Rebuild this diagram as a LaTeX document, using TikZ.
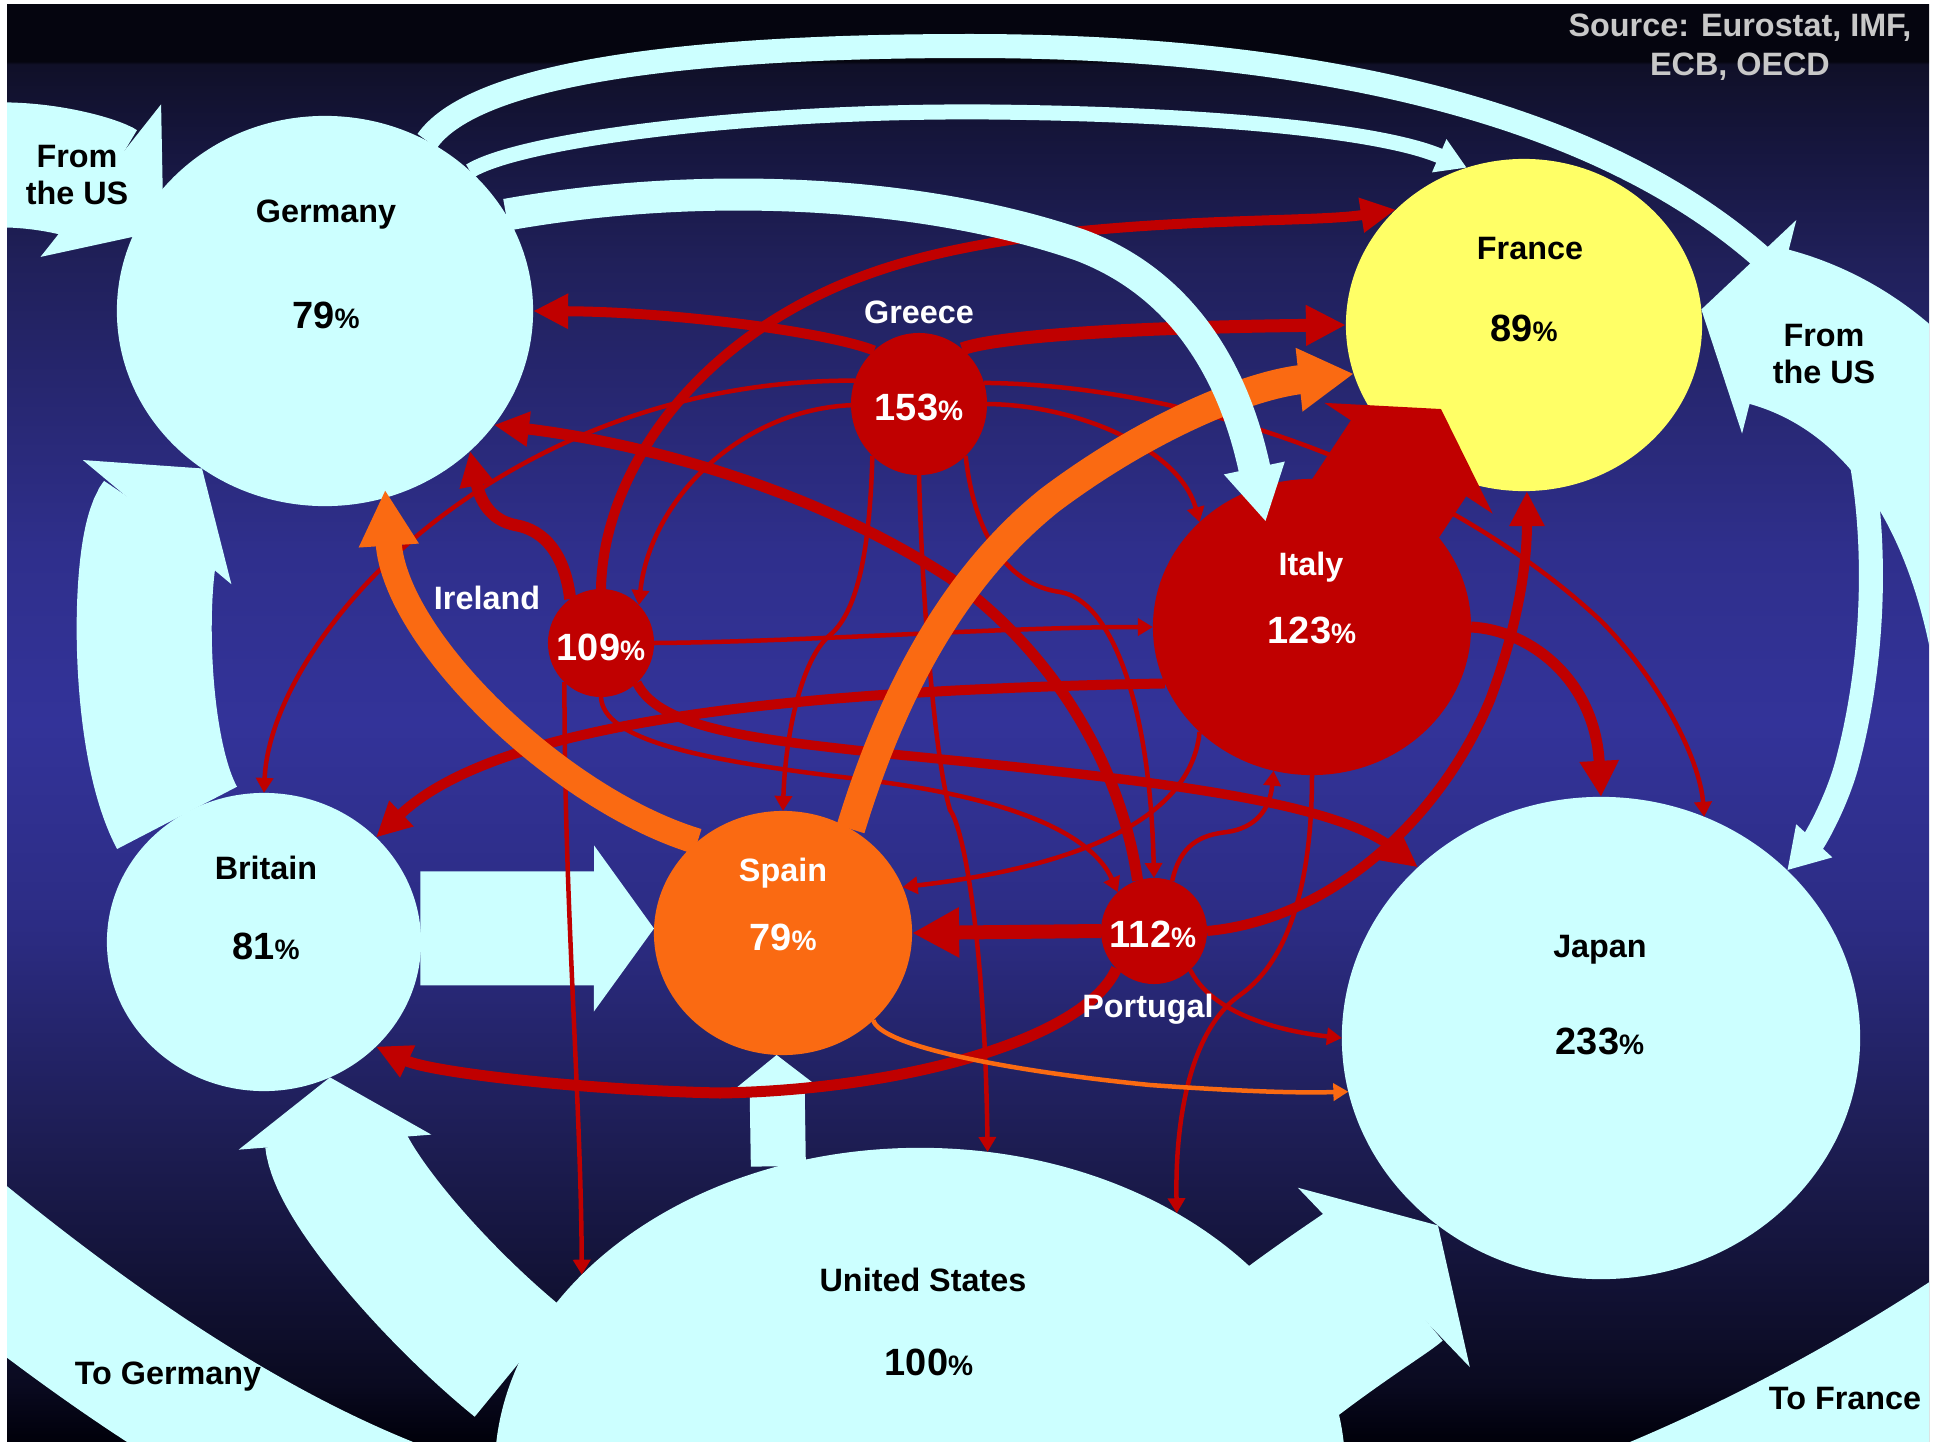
\documentclass[tikz,border=0pt]{standalone}
\usepackage{fontspec}
\setmainfont{Liberation Sans}
\usetikzlibrary{shapes.geometric,arrows.meta,calc}
\definecolor{landcyan}{RGB}{204,255,255}
\definecolor{franceyellow}{RGB}{255,255,102}
\definecolor{debtred}{RGB}{192,0,0}
\definecolor{spainorange}{RGB}{250,106,18}
\definecolor{srcgray}{RGB}{200,200,200}
\definecolor{nighta}{RGB}{0,0,10}
\definecolor{nightb}{RGB}{10,10,32}
\definecolor{nightc}{RGB}{28,28,80}
\definecolor{nightd}{RGB}{44,44,132}
\definecolor{nighte}{RGB}{51,51,153}
\definecolor{nightf}{RGB}{47,47,140}
\definecolor{nightg}{RGB}{38,38,110}
\definecolor{nighth}{RGB}{32,32,90}
\definecolor{nighti}{RGB}{22,22,62}
\definecolor{nightj}{RGB}{16,16,40}
\definecolor{nightk}{RGB}{5,5,15}
\pgfdeclareverticalshading{night}{100bp}{color(0bp)=(nighta); color(25bp)=(nighta);
  color(27bp)=(nightb); color(35bp)=(nightc); color(43bp)=(nightd); color(50bp)=(nighte);
  color(56bp)=(nightf); color(62bp)=(nightg); color(66bp)=(nighth); color(70bp)=(nighti);
  color(72.9bp)=(nightj); color(73bp)=(nightk); color(100bp)=(nightk)}
\pgfdeclarelayer{back}
\pgfdeclarelayer{flows}
\pgfdeclarelayer{front}
\pgfsetlayers{back,flows,main,front}
\newcommand{\pc}{{\fontsize{8}{9}\selectfont\%}}

\begin{document}
\begin{tikzpicture}[x=0.01cm,y=-0.01cm]
    \tikzstyle{land}=[ellipse,inner sep=0pt,outer sep=0pt,fill=landcyan]
    \tikzstyle{debtor}=[ellipse,inner sep=0pt,outer sep=0pt,fill=debtred]
    \tikzstyle{cname}=[inner sep=0pt,font=\fontsize{9.2}{10.6}\selectfont\bfseries]
    \tikzstyle{cpct}=[inner sep=0pt,font=\fontsize{10.8}{12}\selectfont\bfseries]
    \tikzstyle{cyanflow}=[draw=landcyan]
    \tikzstyle{debt}=[draw=debtred,line width=0.45mm,-{Triangle[width=1.7mm,length=1.5mm]}]
    \tikzstyle{bigdebt}=[draw=debtred,line width=1.05mm,-{Triangle[width=3.3mm,length=3.5mm]}]
    \tikzstyle{spainflow}=[draw=spainorange,line width=0.45mm,-{Triangle[width=1.7mm,length=1.5mm]}]
    \tikzstyle{bigspain}=[draw=spainorange,line width=2.6mm,-{Triangle[width=5.6mm,length=5.6mm]}]

    \useasboundingbox (0,0) rectangle (1941,1442);
    \begin{pgfonlayer}{back}
      \fill[white] (0,0) rectangle (1941,1442);
      \shade[shading=night] (7,4) rectangle (1929,1442);
    \end{pgfonlayer}

    % countries
    \node (ger) [land,minimum width=4.16cm,minimum height=3.9cm] at (325,311) {};
    \node (bri) [land,minimum width=3.14cm,minimum height=2.98cm] at (264,942) {};
    \node (jap) [land,minimum width=5.18cm,minimum height=4.82cm] at (1601,1038) {};
    \node (usa) [land,minimum width=8.5cm,minimum height=6.44cm] at (920,1470) {};
    \node (fra) [ellipse,inner sep=0pt,outer sep=0pt,fill=franceyellow,
      minimum width=3.56cm,minimum height=3.32cm] at (1524,325) {};
    \node (gre) [debtor,minimum width=1.36cm,minimum height=1.42cm] at (919,404) {};
    \node (ire) [debtor,minimum width=1.06cm,minimum height=1.08cm] at (601,643) {};
    \node (ita) [debtor,minimum width=3.18cm,minimum height=2.96cm] at (1312,627) {};
    \node (por) [debtor,minimum width=1.06cm,minimum height=1.06cm] at (1154,931) {};
    \node (spa) [ellipse,inner sep=0pt,outer sep=0pt,fill=spainorange,
      minimum width=2.58cm,minimum height=2.44cm] at (783,933) {};

    % big flows of the creditors
    \begin{pgfonlayer}{flows}
      \begin{scope}
        \clip (7,4) rectangle (1929,1442);
        \coordinate (usw) at (-10,165); \coordinate (use) at (2025,820);
        \coordinate (usgw) at (-40,1235); \coordinate (usfe) at (2100,1310);
        \draw[cyanflow,line width=12.5mm,-{Triangle[width=19mm,length=8mm]},shorten >=-2.5mm]
          (usw) .. controls (50,163) and (100,180) .. (ger.152);
        \draw[cyanflow,line width=15.9mm,-{Triangle[width=21.7mm,length=7mm]}]
          (use) .. controls (2025,500) and (1900,360) .. (fra.5);
        \draw[cyanflow,line width=2.4mm,-{Triangle[width=4.6mm,length=4mm]}]
          (ger.59) .. controls (470,80) and (650,46) .. (970,46)
          .. controls (1250,46) and (1580,90) .. (1770,265)
          .. controls (1880,370) and (1890,600) .. (1848,760)
          .. controls (1838,800) and (1815,840) .. (jap.42);
        \draw[cyanflow,line width=1.5mm,-{Triangle[width=3.4mm,length=3mm]}]
          (ger.44) .. controls (520,140) and (750,110) .. (990,112)
          .. controls (1200,114) and (1380,130) .. (fra.110);
        \draw[cyanflow,line width=13.5mm,-{Triangle[width=19mm,length=7mm]}]
          (bri.125) .. controls (135,740) and (138,545) .. (ger.232);
        \draw[cyanflow,line width=11.4mm,-{Triangle[width=16.3mm,length=6mm]}] (bri.5) -- (spa.178);
        \draw[cyanflow,line width=5.5mm,-{Triangle[width=8.9mm,length=3.6mm]}] (usa.115) -- (spa.267);
        \draw[cyanflow,line width=14mm,-{Triangle[width=19mm,length=6.5mm]}]
          (usa.165) .. controls (430,1290) and (338,1180) .. (bri.296);
        \draw[cyanflow,line width=13.5mm] (usa.190) .. controls (330,1500) and (150,1390) .. (usgw);
        \draw[cyanflow,line width=24mm] (usa.330) .. controls (1500,1640) and (1800,1530) .. (usfe);
        \draw[cyanflow,line width=17.3mm,-{Triangle[width=24.5mm,length=7.5mm]}]
          ($(usa)+(300,-70)$) .. controls (1300,1330) and (1378,1283) .. (jap.229);
      \end{scope}
    \end{pgfonlayer}

    % Greece
    \draw[bigdebt,line width=1.0mm] (gre.130) .. controls (830,333) and (680,312) .. (ger.0);
    \draw[bigdebt,line width=1.3mm,-{Triangle[width=3.8mm,length=4mm]}]
      (gre.52) .. controls (1000,335) and (1150,327) .. (fra.180);
    \draw[debt] (gre.160) .. controls (700,380) and (560,430) .. (450,510)
      .. controls (340,590) and (268,700) .. (bri.90);
    \draw[debt] (gre.181) .. controls (740,410) and (650,500) .. (ire.45);
    \draw[debt] (gre.0) .. controls (1080,405) and (1180,450) .. (ita.137);
    \draw[debt] (gre.18) .. controls (1200,385) and (1450,480) .. (1600,620)
      .. controls (1660,680) and (1700,760) .. (jap.65);
    \draw[debt] (gre.228) .. controls (870,540) and (860,610) .. (830,635)
      .. controls (800,660) and (785,740) .. (spa.90);
    \draw[debt] (gre.270) .. controls (922,600) and (935,760) .. (950,810)
      .. controls (965,830) and (985,950) .. (usa.78);
    \draw[debt] (gre.312) .. controls (975,540) and (1010,585) .. (1060,592)
      .. controls (1110,600) and (1150,700) .. (por.90);

    % Ireland
    \draw[bigdebt,line width=1.2mm] (ire.125) .. controls (565,555) and (545,530) .. (515,525)
      .. controls (490,520) and (480,500) .. (ger.316);
    \draw[bigdebt,line width=1.0mm] (ire.90) .. controls (603,470) and (700,330) .. (880,270)
      .. controls (1050,213) and (1300,225) .. (fra.138);
    \draw[debt] (ire.0) .. controls (800,642) and (1000,627) .. (ita.180);
    \draw[debt] (ire.227) .. controls (564,900) and (581,1100) .. (usa.150);
    \draw[bigdebt,line width=0.95mm] (ire.312) .. controls (660,730) and (760,740) .. (900,755)
      .. controls (1150,780) and (1330,800) .. (jap.137);
    \draw[debt] (ire.270) .. controls (603,740) and (700,760) .. (850,778)
      .. controls (1000,795) and (1090,830) .. (por.133);

    % Italy
    \draw[bigdebt,line width=1.0mm] (ita.201) .. controls (800,690) and (500,720) .. (bri.43);
    \draw[bigdebt,line width=1.1mm,-{Triangle[width=3.7mm,length=3.6mm]}]
      (ita.0) .. controls (1530,630) and (1595,680) .. (jap.90);
    \draw[debt] (ita.223) .. controls (1190,830) and (1050,870) .. (spa.21);
    \draw[debt] (ita.270) .. controls (1312,880) and (1290,960) .. (1240,995)
      .. controls (1190,1030) and (1175,1120) .. (usa.45);

    % Portugal
    \draw[bigdebt,line width=1.4mm,-{Triangle[width=4.7mm,length=4.7mm]}] (por.180) -- (spa.0);
    \draw[bigdebt,line width=1.0mm] (por.0) .. controls (1330,920) and (1440,820) .. (1490,700)
      .. controls (1520,620) and (1527,560) .. (fra.271);
    \draw[bigdebt,line width=1.1mm] (por.108) .. controls (1120,760) and (1050,650) .. (950,578)
      .. controls (800,480) and (620,440) .. (ger.326);
    \draw[bigdebt,line width=1.1mm] (por.225) .. controls (1085,1040) and (900,1090) .. (720,1093)
      .. controls (580,1090) and (430,1072) .. (bri.317);
    \draw[debt] (por.313) .. controls (1210,1010) and (1270,1030) .. (jap.180);
    \draw[debt] (por.70) .. controls (1180,845) and (1200,835) .. (1227,832)
      .. controls (1255,828) and (1270,810) .. (ita.255);

    % Spain
    \draw[bigspain,shorten >=-0.8mm] (spa.133) .. controls (560,800) and (395,640) .. (ger.288);
    \draw[bigspain,line width=2.9mm,-{Triangle[width=6mm,length=5.5mm]}]
      (spa.57) .. controls (890,700) and (950,580) .. (1050,500)
      .. controls (1150,425) and (1250,385) .. (fra.196);
    \draw[spainflow] (spa.316) .. controls (880,1045) and (1000,1070) .. (1150,1085)
      .. controls (1250,1092) and (1300,1093) .. (jap.192);

    \begin{pgfonlayer}{front}
      \draw[cyanflow,line width=3.2mm,-{Triangle[width=5.8mm,length=5.5mm]},shorten >=-3.5mm]
        (ger.28) .. controls (700,180) and (920,190) .. (1080,245)
        .. controls (1200,290) and (1240,400) .. (ita.111);
      \draw[draw=debtred,line width=13.8mm,-{Triangle[width=19.9mm,length=5.9mm]}]
        ($(ita)+(48,-95)$) -- ($(fra)+(-83,84)$);

      % labels
      \node (gername) [cname] at (326,215) {Germany}; \node (gerpct) [cpct] at (326,315) {79\pc};
      \node (franame) [cname] at (1530,249) {France}; \node (frapct) [cpct] at (1524,328) {89\pc};
      \node (briname) [cname] at (266,868) {Britain}; \node (bripct) [cpct] at (266,946) {81\pc};
      \node (japname) [cname] at (1600,950) {Japan}; \node (jappct) [cpct] at (1600,1041) {233\pc};
      \node (usaname) [cname] at (923,1280) {United States}; \node (usapct) [cpct] at (929,1362) {100\pc};
      \node (itaname) [cname,white] at (1311,567) {Italy}; \node (itapct) [cpct,white] at (1312,630) {123\pc};
      \node (spaname) [cname,white] at (783,873) {Spain}; \node (spapct) [cpct,white] at (783,937) {79\pc};
      \node (grename) [cname,white] at (919,312) {Greece}; \node (grepct) [cpct,white] at (919,407) {153\pc};
      \node (irename) [cname,white] at (487,598) {Ireland}; \node (irepct) [cpct,white] at (601,647) {109\pc};
      \node (porname) [cname,white] at (1148,1009) {Portugal}; \node (porpct) [cpct,white] at (1153,934) {112\pc};
      \node (uswname) [cname,align=center] at (77,175) {From\\the US};
      \node (usename) [cname,align=center] at (1824,354) {From\\the US};
      \node (togname) [cname] at (168,1377) {To Germany};
      \node (tofname) [cname] at (1845,1399) {To France};
      \node (source) [cname,align=center,text=srcgray,font=\fontsize{9.2}{11}\selectfont\bfseries]
        at (1740,47) {Source: Eurostat, IMF,\\ECB, OECD};
    \end{pgfonlayer}
\end{tikzpicture}
\end{document}
